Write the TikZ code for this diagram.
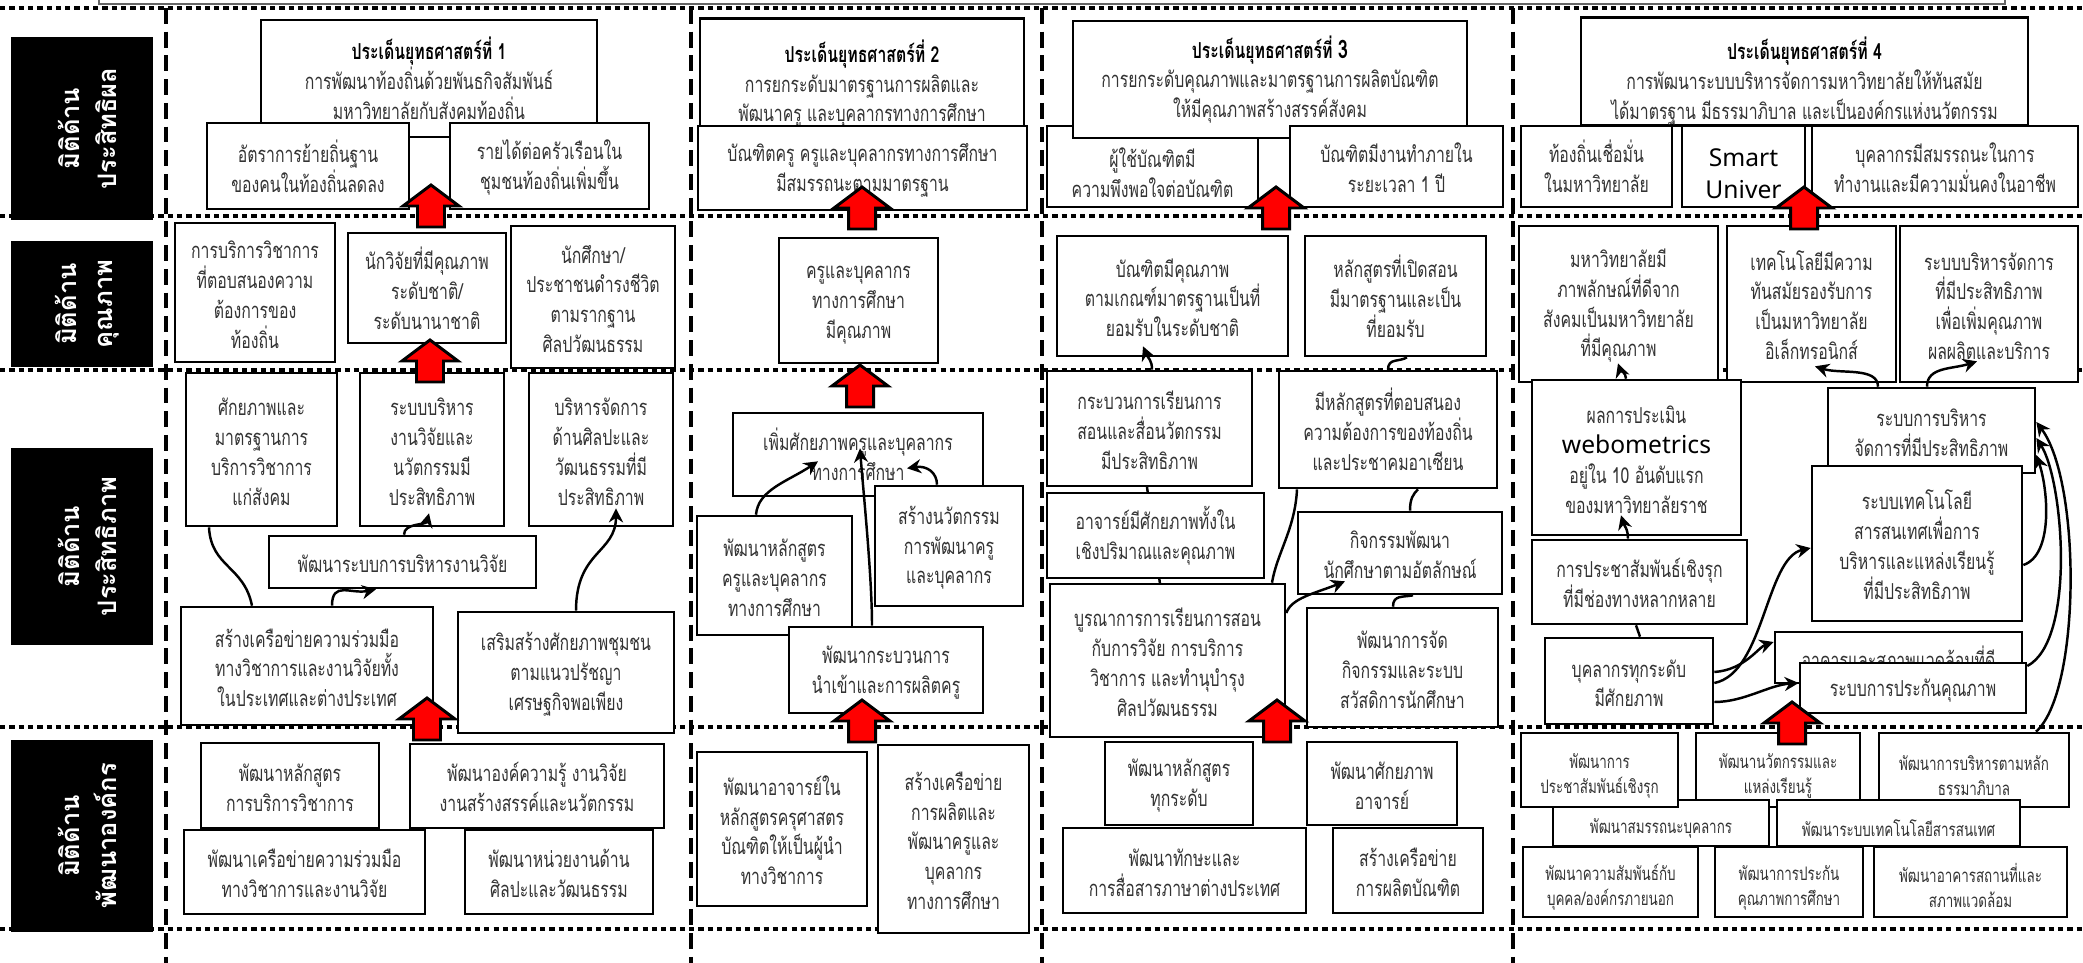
\documentclass[tikz,border=0pt]{standalone}
\usepackage{fontspec}
\newfontfamily\thai[Script=Thai,FakeStretch=0.72]{Loma}
\newfontfamily\thaiwide[Script=Thai]{Loma}
\newfontfamily\latin{Noto Sans}
\usetikzlibrary{calc,arrows.meta}
\newcommand\topgap{\rule{0pt}{12.5pt}}
\newcommand\tinygap{\rule{0pt}{15pt}}
\tikzset{
    area/.style n args={4}{at={({(#1+#3)/2},{(#2+#4)/2})},
        minimum width={(#3-#1)*0.02cm}, minimum height={(#4-#2)*0.02cm}},
    box/.style={draw, line width=1.5pt, fill=white, inner sep=0pt, align=center,
        text=black!80, font=\thai\fontsize{12.5}{17}\selectfont},
    tinybox/.style={box, font=\thai\fontsize{10.6}{14}\selectfont},
    dimlabel/.style={fill=black, text=white, inner sep=0pt, align=center, rotate=90,
        font=\thaiwide\bfseries\fontsize{14.5}{21}\selectfont},
    rowline/.style={line width=2.3pt, dash pattern=on 3pt off 2.3pt},
    colline/.style={line width=2pt, dash pattern=on 9pt off 4.5pt},
    flow/.style={line width=1.4pt, -{Stealth[length=8pt,width=8pt]}},
    joint/.style={line width=1.4pt},
    uparrow/.pic={
        \draw[fill=red, line width=1.7pt, line join=miter]
            (0,0) -- (28,21) -- (13.5,21) -- (13.5,42) -- (-13.5,42) -- (-13.5,21) -- (-28,21) -- cycle;
    }
}

\begin{document}
\begin{tikzpicture}[x=0.02cm, y=-0.02cm]
\useasboundingbox (0,0) rectangle (2083,963);
\draw[black!60, line width=1pt] (99,-5) |- (2005,4) -- (2005,-5);
\draw[rowline] (0,8) -- (2083,8);
\draw[rowline] (0,216) -- (2083,216);
\draw[rowline] (0,370) -- (2083,370);
\draw[rowline] (0,727) -- (2083,727);
\draw[rowline] (0,929) -- (2083,929);
\draw[colline] (166,8) -- (166,963);
\draw[colline] (691,8) -- (691,963);
\draw[colline] (1042,8) -- (1042,963);
\draw[colline] (1513,8) -- (1513,963);

\node[dimlabel, minimum width=3.66cm, minimum height=2.84cm] (d1) at (82,128.5) {\rule{0pt}{18pt}มิติด้าน\\ประสิทธิผล};
\node[dimlabel, minimum width=2.52cm, minimum height=2.84cm] (d2) at (82,304) {\rule{0pt}{18pt}มิติด้าน\\คุณภาพ};
\node[dimlabel, minimum width=3.94cm, minimum height=2.84cm] (d3) at (82,546.5) {\rule{0pt}{18pt}มิติด้าน\\ประสิทธิภาพ};
\node[dimlabel, minimum width=3.84cm, minimum height=2.84cm] (d4) at (82,836) {\rule{0pt}{18pt}มิติด้าน\\พัฒนาองค์กร};

\draw[joint] (1160,584) -- (1147,487);

\node[box, area={261}{20}{597}{137}] (h1) {\topgap{\color{black}\textbf{ประเด็นยุทธศาสตร์ที่ 1}}\\การพัฒนาท้องถิ่นด้วยพันธกิจสัมพันธ์\\มหาวิทยาลัยกับสังคมท้องถิ่น};
\node[box, area={207}{123}{409}{209}] (e11) {\topgap อัตราการย้ายถิ่นฐาน\\ของคนในท้องถิ่นลดลง};
\node[box, area={450}{123}{649}{209}] (e12) {\topgap รายได้ต่อครัวเรือนใน\\ชุมชนท้องถิ่นเพิ่มขึ้น};
\node[box, area={175}{223}{335}{362}] (q11) {\topgap การบริการวิชาการ\\ที่ตอบสนองความ\\ต้องการของ\\ท้องถิ่น};
\node[box, area={348}{233}{506}{343}] (q12) {\topgap นักวิจัยที่มีคุณภาพ\\ระดับชาติ/\\ระดับนานาชาติ};
\node[box, area={511}{226}{675}{368}] (q13) {\topgap นักศึกษา/\\ประชาชนดำรงชีวิต\\ตามรากฐาน\\ศิลปวัฒนธรรม};
\node[box, area={186}{373}{337}{526}] (p11) {\topgap ศักยภาพและ\\มาตรฐานการ\\บริการวิชาการ\\แก่สังคม};
\node[box, area={360}{373}{504}{526}] (p12) {\topgap ระบบบริหาร\\งานวิจัยและ\\นวัตกรรมมี\\ประสิทธิภาพ};
\node[box, area={529}{373}{673}{526}] (p13) {\topgap บริหารจัดการ\\ด้านศิลปะและ\\วัฒนธรรมที่มี\\ประสิทธิภาพ};
\node[box, area={269}{536}{536}{588}] (p14) {\topgap พัฒนาระบบการบริหารงานวิจัย};
\node[box, area={181}{607}{433}{725}] (p15) {\topgap สร้างเครือข่ายความร่วมมือ\\ทางวิชาการและงานวิจัยทั้ง\\ในประเทศและต่างประเทศ};
\node[box, area={458}{612}{674}{733}] (p16) {\topgap เสริมสร้างศักยภาพชุมชน\\ตามแนวปรัชญา\\เศรษฐกิจพอเพียง};
\node[box, area={201}{743}{379}{828}] (o11) {\topgap พัฒนาหลักสูตร\\การบริการวิชาการ};
\node[box, area={410}{744}{664}{828}] (o12) {\topgap พัฒนาองค์ความรู้ งานวิจัย\\งานสร้างสรรค์และนวัตกรรม};
\node[box, area={184}{830}{425}{914}] (o13) {\topgap พัฒนาเครือข่ายความร่วมมือ\\ทางวิชาการและงานวิจัย};
\node[box, area={465}{830}{653}{914}] (o14) {\topgap พัฒนาหน่วยงานด้าน\\ศิลปะและวัฒนธรรม};

\node[box, area={700}{20}{1024}{126}] (h2) {\rule{0pt}{25pt}{\color{black}\textbf{ประเด็นยุทธศาสตร์ที่ 2}}\\การยกระดับมาตรฐานการผลิตและ\\พัฒนาครู และบุคลากรทางการศึกษา};
\node[box, area={698}{126}{1027}{210}] (e21) {\topgap บัณฑิตครู ครูและบุคลากรทางการศึกษา\\มีสมรรถนะตามมาตรฐาน};
\node[box, area={779}{238}{938}{363}] (q21) {\topgap ครูและบุคลากร\\ทางการศึกษา\\มีคุณภาพ};
\node[box, area={733}{413}{983}{496}] (p21) {\topgap เพิ่มศักยภาพครูและบุคลากร\\ทางการศึกษา};
\node[box, area={697}{516}{852}{635}] (p22) {\topgap พัฒนาหลักสูตร\\ครูและบุคลากร\\ทางการศึกษา};
\node[box, area={875}{486}{1023}{606}] (p23) {\topgap สร้างนวัตกรรม\\การพัฒนาครู\\และบุคลากร};
\node[box, area={789}{627}{983}{713}] (p24) {\topgap พัฒนากระบวนการ\\นำเข้าและการผลิตครู};
\node[box, area={697}{752}{867}{906}] (o21) {\topgap พัฒนาอาจารย์ใน\\หลักสูตรครุศาสตร\\บัณฑิตให้เป็นผู้นำ\\ทางวิชาการ};
\node[box, area={878}{745}{1029}{933}] (o22) {\topgap สร้างเครือข่าย\\การผลิตและ\\พัฒนาครูและ\\บุคลากร\\ทางการศึกษา};

\node[box, area={1047}{126}{1258}{207}] (e31) {\rule{0pt}{18pt}ผู้ใช้บัณฑิตมี\\ความพึงพอใจต่อบัณฑิต};
\node[box, area={1073}{21}{1467}{138}] (h3) {\topgap{\color{black}\textbf{ประเด็นยุทธศาสตร์ที่ {\fontsize{14.5}{17}\selectfont 3}}}\\การยกระดับคุณภาพและมาตรฐานการผลิตบัณฑิต\\ให้มีคุณภาพสร้างสรรค์สังคม};
\node[box, area={1290}{126}{1503}{207}] (e32) {\topgap บัณฑิตมีงานทำภายใน\\ระยะเวลา 1 ปี};
\node[box, area={1057}{236}{1288}{356}] (q31) {\topgap บัณฑิตมีคุณภาพ\\ตามเกณฑ์มาตรฐานเป็นที่\\ยอมรับในระดับชาติ};
\node[box, area={1305}{236}{1486}{356}] (q32) {\topgap หลักสูตรที่เปิดสอน\\มีมาตรฐานและเป็น\\ที่ยอมรับ};
\node[box, area={1047}{371}{1252}{486}] (p31) {\topgap กระบวนการเรียนการ\\สอนและสื่อนวัตกรรม\\มีประสิทธิภาพ};
\node[box, area={1279}{371}{1497}{488}] (p32) {\topgap มีหลักสูตรที่ตอบสนอง\\ความต้องการของท้องถิ่น\\และประชาคมอาเซียน};
\node[box, area={1047}{493}{1264}{578}] (p33) {\topgap อาจารย์มีศักยภาพทั้งใน\\เชิงปริมาณและคุณภาพ};
\node[box, area={1298}{512}{1502}{594}] (p34) {\topgap กิจกรรมพัฒนา\\นักศึกษาตามอัตลักษณ์};
\node[box, area={1050}{584}{1285}{737}] (p35) {\topgap บูรณาการการเรียนการสอน\\กับการวิจัย การบริการ\\วิชาการ และทำนุบำรุง\\ศิลปวัฒนธรรม};
\node[box, area={1307}{608}{1498}{727}] (p36) {\topgap พัฒนาการจัด\\กิจกรรมและระบบ\\สวัสดิการนักศึกษา};
\node[box, area={1105}{742}{1253}{825}] (o31) {\topgap พัฒนาหลักสูตร\\ทุกระดับ};
\node[box, area={1307}{742}{1457}{825}] (o32) {\topgap พัฒนาศักยภาพ\\อาจารย์};
\node[box, area={1063}{828}{1306}{913}] (o33) {\topgap พัฒนาทักษะและ\\การสื่อสารภาษาต่างประเทศ};
\node[box, area={1333}{828}{1483}{913}] (o34) {\topgap สร้างเครือข่าย\\การผลิตบัณฑิต};

\node[box, area={1581}{18}{2028}{125}] (h4) {\rule{0pt}{24pt}{\color{black}\textbf{ประเด็นยุทธศาสตร์ที่ 4}}\\การพัฒนาระบบบริหารจัดการมหาวิทยาลัยให้ทันสมัย\\ได้มาตรฐาน มีธรรมาภิบาล และเป็นองค์กรแห่งนวัตกรรม};
\node[box, area={1521}{126}{1672}{207}] (e41) {\topgap ท้องถิ่นเชื่อมั่น\\ในมหาวิทยาลัย};
\node[box, area={1682}{126}{1805}{207}, text=black, font=\latin\fontsize{14}{18.5}\selectfont] (e42) {\rule{0pt}{18.5pt}Smart\\Univer};
\node[box, area={1812}{126}{2078}{207}] (e43) {\topgap บุคลากรมีสมรรถนะในการ\\ทำงานและมีความมั่นคงในอาชีพ};
\node[box, area={1519}{226}{1718}{382}] (q41) {\topgap มหาวิทยาลัยมี\\ภาพลักษณ์ที่ดีจาก\\สังคมเป็นมหาวิทยาลัย\\ที่มีคุณภาพ};
\node[box, area={1727}{226}{1896}{382}] (q42) {\topgap เทคโนโลยีมีความ\\ทันสมัยรองรับการ\\เป็นมหาวิทยาลัย\\อิเล็กทรอนิกส์};
\node[box, area={1900}{226}{2078}{382}] (q43) {\topgap ระบบบริหารจัดการ\\ที่มีประสิทธิภาพ\\เพื่อเพิ่มคุณภาพ\\ผลผลิตและบริการ};
\node[box, area={1532}{380}{1741}{535}] (p41) {\topgap ผลการประเมิน\\{\latin\color{black}\fontsize{14}{17}\selectfont webometrics}\\อยู่ใน 10 อันดับแรก\\ของมหาวิทยาลัยราช};
\node[box, area={1532}{540}{1747}{624}] (p42) {\topgap การประชาสัมพันธ์เชิงรุก\\ที่มีช่องทางหลากหลาย};
\node[box, area={1545}{638}{1713}{724}] (p43) {\topgap บุคลากรทุกระดับ\\มีศักยภาพ};
\node[box, area={1828}{388}{2035}{473}] (p44) {\topgap ระบบการบริหาร\\จัดการที่มีประสิทธิภาพ};
\node[box, area={1812}{466}{2022}{621}] (p45) {\topgap ระบบเทคโนโลยี\\สารสนเทศเพื่อการ\\บริหารและแหล่งเรียนรู้\\ที่มีประสิทธิภาพ};
\node[box, area={1775}{632}{2022}{683}] (p46) {อาคารและสภาพแวดล้อมที่ดี};
\node[box, area={1800}{663}{2026}{713}] (p47) {\topgap ระบบการประกันคุณภาพ};
\node[tinybox, area={1696}{733}{1860}{807}] (o42) {\tinygap พัฒนานวัตกรรมและ\\แหล่งเรียนรู้};
\node[tinybox, area={1879}{733}{2069}{807}] (o43) {\tinygap พัฒนาการบริหารตามหลัก\\ธรรมาภิบาล};
\node[tinybox, area={1553}{800}{1769}{846}] (o44) {\tinygap พัฒนาสมรรถนะบุคลากร};
\node[tinybox, area={1777}{800}{2020}{846}] (o45) {\tinygap พัฒนาระบบเทคโนโลยีสารสนเทศ};
\node[tinybox, area={1521}{733}{1678}{807}] (o41) {\tinygap พัฒนาการ\\ประชาสัมพันธ์เชิงรุก};
\node[tinybox, area={1523}{847}{1698}{917}] (o46) {\tinygap พัฒนาความสัมพันธ์กับ\\บุคคล/องค์กรภายนอก};
\node[tinybox, area={1715}{847}{1863}{917}] (o47) {\tinygap พัฒนาการประกัน\\คุณภาพการศึกษา};
\node[tinybox, area={1874}{847}{2067}{917}] (o48) {\tinygap พัฒนาอาคารสถานที่และ\\สภาพแวดล้อม};

\draw[joint] (209,0 |- p11.south) .. controls +(2,40) and +(-8,-40) .. (252,0 |- p15.north);
\draw[flow] (332,0 |- p15.north) .. controls +(0,-25) and +(-25,5) .. (376,0 |- p14.south);
\draw[flow] (404,0 |- p14.north) .. controls +(0,-12) and +(-3,12) .. ($(429,0 |- p12.south)+(0,-14)$);
\draw[flow] (576,0 |- p16.north) .. controls +(0,-60) and +(0,45) .. ($(616,0 |- p13.south)+(0,-19)$);

\draw[flow] (756,0 |- p22.north) .. controls +(2,-25) and +(-30,20) .. ($(818,0 |- p21.south)+(0,-36)$);
\draw[flow] (872,0 |- p24.north) .. controls +(0,-50) and +(3,40) .. ($(860,0 |- p21.south)+(0,-49)$);
\draw[flow] (937,0 |- p23.north) .. controls +(0,-12) and +(20,-3) .. ($(907,0 |- p21.south)+(0,-29)$);

\draw[flow] (1152,0 |- p31.north) .. controls +(0,-10) and +(5,12) .. ($(1143,0 |- q31.south)+(0,-11)$);
\draw[joint] (1388,0 |- p32.north) .. controls +(0,-12) and +(-8,5) .. (1407,0 |- q32.south);
\draw[joint] (1272,0 |- p35.north) .. controls +(5,-30) and +(-2,40) .. (1297,0 |- p32.south);
\draw[flow] (p35.east |- 0,613) .. controls +(5,-15) and +(-30,12) .. ($(1345,0 |- p34.south)+(0,-14)$);
\draw[joint] (1393,0 |- p36.north) .. controls +(0,-12) and +(-10,2) .. (1413,0 |- p34.south);
\draw[joint] (1410,0 |- p34.north) .. controls +(0,-12) and +(-5,5) .. (1418,0 |- p32.south);

\draw[flow] (1628,0 |- p42.north) .. controls +(0,-10) and +(3,10) .. ($(1621,0 |- p41.south)+(0,-21)$);
\draw[flow] (1626,0 |- p41.north) .. controls +(0,-6) and +(2,6) .. ($(1618,0 |- q41.south)+(0,-20)$);
\draw[joint] (1640,0 |- p43.north) -- (1636,0 |- p42.south);
\draw[flow] (p43.east |- 0,672) .. controls +(30,-2) and +(-15,5) .. (p46.west |- 0,642);
\draw[flow] (p43.east |- 0,683) .. controls +(50,-10) and +(-45,10) .. (p45.west |- 0,548);
\draw[flow] (p43.east |- 0,702) .. controls +(30,0) and +(-30,2) .. (p47.west |- 0,683);
\draw[flow] (1878,0 |- p44.north) .. controls +(0,-20) and +(25,8) .. ($(1815,0 |- q42.south)+(0,-17)$);
\draw[flow] (1927,0 |- p44.north) .. controls +(0,-20) and +(-25,8) .. ($(1977,0 |- q43.south)+(0,-22)$);
\draw[flow] (p45.east |- 0,565) .. controls +(30,-10) and +(12,35) .. (p44.east |- 0,455);
\draw[flow] (p47.east |- 0,666) .. controls +(49,-26) and +(27,42) .. (p44.east |- 0,438);
\draw[flow] (2036,0 |- o43.north) .. controls +(45,-40) and +(45,60) .. (p44.east |- 0,422);

\pic at (431,185) {uparrow};
\pic at (430,340) {uparrow};
\pic at (427,698) {uparrow};
\pic at (862,187) {uparrow};
\pic at (860,365) {uparrow};
\pic at (862,700) {uparrow};
\pic at (1276,187) {uparrow};
\pic at (1277,700) {uparrow};
\pic at (1804,187) {uparrow};
\pic at (1792,702) {uparrow};
\end{tikzpicture}
\end{document}
